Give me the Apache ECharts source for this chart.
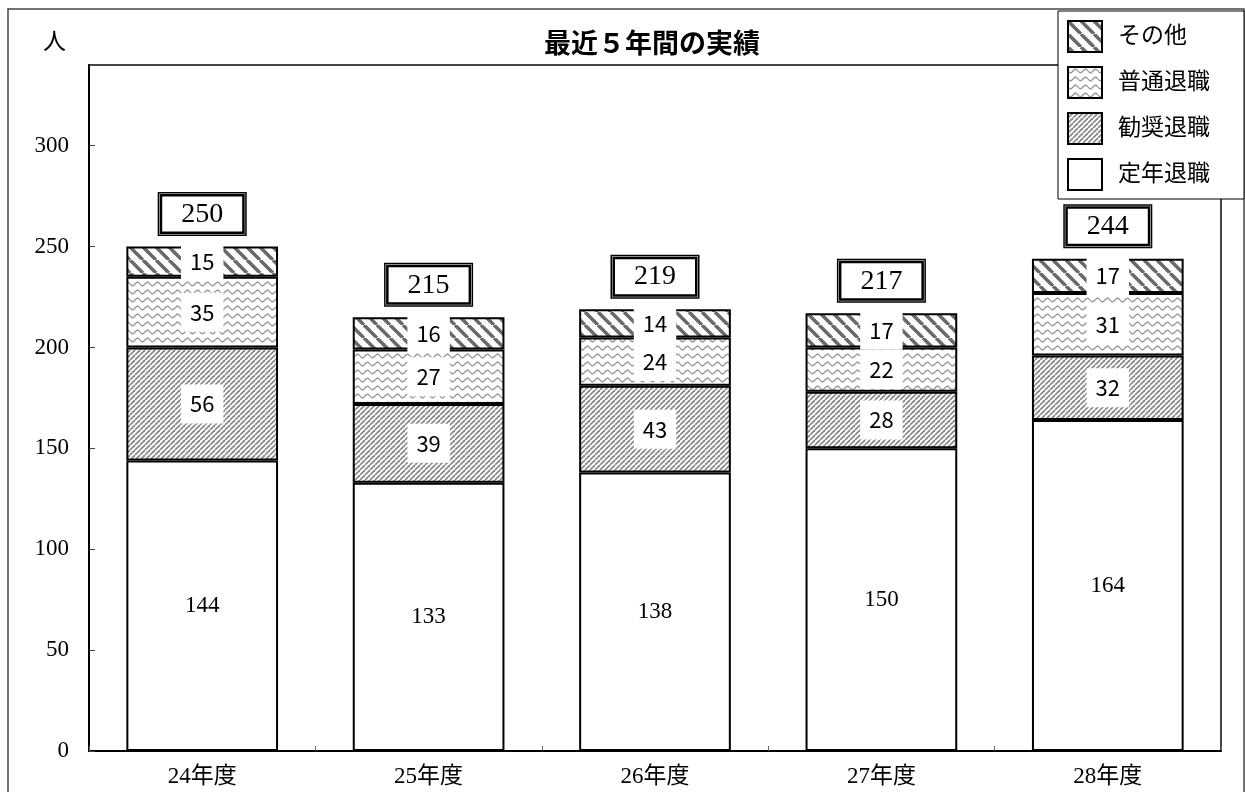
<!DOCTYPE html>
<html>
<head>
<meta charset="utf-8">
<script src="https://cdn.jsdelivr.net/npm/echarts@6/dist/echarts.min.js"></script>
<style>
html, body { margin: 0; padding: 0; background: #fff; }
#chart { width: 1245px; height: 792px; }
</style>
</head>
<body>
<div id="chart"></div>
<script>
var years = ["24年度", "25年度", "26年度", "27年度", "28年度"];
var teinen = [144, 133, 138, 150, 164];   // 定年退職
var kansho = [56, 39, 43, 28, 32];        // 勧奨退職
var futsu = [35, 27, 24, 22, 31];         // 普通退職
var sonota = [15, 16, 14, 17, 17];        // その他
var totals = [250, 215, 219, 217, 244];
var yTicks = [0, 50, 100, 150, 200, 250, 300];

var serif = "'Liberation Serif', 'DejaVu Serif', 'Noto Sans CJK JP', serif";
var gothic = "'Noto Sans CJK JP', sans-serif";

function stripes(size, lw, color, back) {
    var c = document.createElement("canvas");
    c.width = size; c.height = size;
    var g = c.getContext("2d");
    g.fillStyle = "#fff";
    g.fillRect(0, 0, size, size);
    g.strokeStyle = color;
    g.lineWidth = lw;
    for (var k = -1; k <= 1; k++) {
        g.beginPath();
        if (back) {
            g.moveTo(k * size, 0);
            g.lineTo(k * size + size, size);
        } else {
            g.moveTo(k * size, size);
            g.lineTo(k * size + size, 0);
        }
        g.stroke();
    }
    return { image: c, repeat: "repeat" };
}

function wave(w, h, color) {
    var c = document.createElement("canvas");
    c.width = w; c.height = h;
    var g = c.getContext("2d");
    g.fillStyle = "#fff";
    g.fillRect(0, 0, w, h);
    g.strokeStyle = color;
    g.lineWidth = 1.4;
    g.beginPath();
    for (var x = 0; x <= w; x += 0.5) {
        var y = h / 2 + 1.8 * Math.sin(2 * Math.PI * x / w);
        if (x === 0) g.moveTo(x, y); else g.lineTo(x, y);
    }
    g.stroke();
    return { image: c, repeat: "repeat" };
}

var boxLabel = {
    show: true,
    position: "inside",
    backgroundColor: "#fff",
    padding: [9, 9, 8, 9],
    color: "#000",
    fontFamily: gothic,
    fontSize: 22
};

var chart = echarts.init(document.getElementById("chart"));
var option = {
    animation: false,
    backgroundColor: "#fff",
    title: {
        text: "最近５年間の実績",
        left: 647,
        textAlign: "center",
        top: 24,
        textStyle: { fontFamily: gothic, fontSize: 27, fontWeight: "bold", color: "#000" }
    },
    legend: {
        data: ["その他", "普通退職", "勧奨退職", "定年退職"],
        orient: "vertical",
        left: 1058,
        top: 11,
        padding: [9, 34, 8, 9],
        icon: "rect",
        itemWidth: 34,
        itemHeight: 31,
        itemGap: 13,
        backgroundColor: "#fff",
        borderColor: "#000",
        borderWidth: 1,
        borderRadius: 0,
        textStyle: { fontFamily: serif, fontSize: 23, color: "#000", padding: [0, 0, 0, 11] }
    },
    graphic: [{
        type: "rect",
        z: -1,
        shape: { x: 8, y: 9, width: 1236, height: 800 },
        style: { fill: "none", stroke: "#444", lineWidth: 1.5 }
    }],
    grid: {
        left: 89, top: 65, width: 1132, height: 686,
        show: true, borderColor: "#444", borderWidth: 2, backgroundColor: "transparent"
    },
    xAxis: {
        type: "category",
        data: years,
        axisLine: { lineStyle: { color: "#000", width: 2 } },
        axisTick: { show: true, inside: true, length: 5, lineStyle: { color: "#666" } },
        axisLabel: { fontFamily: serif, fontSize: 23, color: "#000", margin: 14 }
    },
    yAxis: {
        type: "value",
        min: 0, max: 340, interval: 50,
        name: "人",
        nameLocation: "end",
        nameGap: 11,
        nameTextStyle: { fontFamily: serif, fontSize: 23, color: "#000", align: "right", padding: [0, 23, 0, 0] },
        axisLine: { show: true, lineStyle: { color: "#000", width: 2 } },
        axisTick: { show: true, inside: true, length: 6, lineStyle: { color: "#444" } },
        splitLine: { show: false },
        axisLabel: {
            fontFamily: serif, fontSize: 23, color: "#000", margin: 20,
            formatter: function (v) { return yTicks.indexOf(v) >= 0 ? String(v) : ""; }
        }
    },
    series: [{
        name: "定年退職",
        type: "bar",
        stack: "all",
        barWidth: "67%",
        data: teinen,
        itemStyle: { color: "#fff", borderColor: "#000", borderWidth: 2 },
        label: { show: true, position: "inside", color: "#000", fontFamily: serif, fontSize: 23 }
    }, {
        name: "勧奨退職",
        type: "bar",
        stack: "all",
        data: kansho,
        itemStyle: { color: stripes(5, 1.8, "#8a8a8a", false), borderColor: "#000", borderWidth: 2 },
        label: boxLabel
    }, {
        name: "普通退職",
        type: "bar",
        stack: "all",
        data: futsu,
        itemStyle: { color: wave(10, 8, "#999"), borderColor: "#000", borderWidth: 2 },
        label: boxLabel
    }, {
        name: "その他",
        type: "bar",
        stack: "all",
        data: sonota,
        itemStyle: { color: stripes(13, 3.5, "#6a6a6a", true), borderColor: "#000", borderWidth: 2 },
        label: boxLabel
    }, {
        name: "合計",
        type: "bar",
        stack: "all",
        data: totals.map(function () { return 0; }),
        itemStyle: { color: "transparent", borderWidth: 0 },
        label: {
            show: true,
            position: "top",
            distance: 12,
            backgroundColor: "#fff",
            borderColor: "#000",
            borderWidth: 1.5,
            padding: 3,
            formatter: function (p) { return "{b|" + totals[p.dataIndex] + "}"; },
            rich: {
                b: {
                    fontFamily: serif, fontSize: 28, color: "#000",
                    borderColor: "#000", borderWidth: 2.5,
                    backgroundColor: "#fff",
                    padding: [4, 19, 3, 19]
                }
            }
        }
    }]
};
chart.setOption(option);
</script>
</body>
</html>
